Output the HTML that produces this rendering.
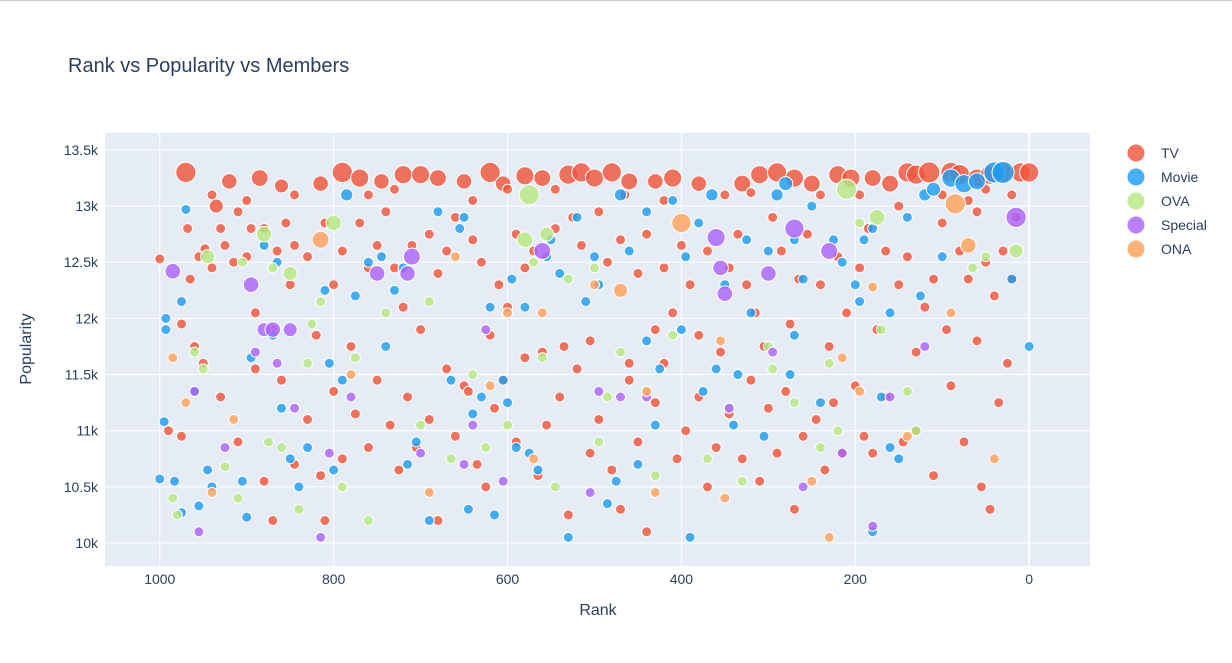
<!DOCTYPE html>
<html><head><meta charset="utf-8"><style>
html,body{margin:0;padding:0;background:#fff;}
body{width:1232px;height:658px;overflow:hidden;font-family:"Liberation Sans",sans-serif;border-top:1px solid #ccc;box-sizing:border-box;}
svg text{font-family:"Liberation Sans",sans-serif;fill:#2a3f5f;}
</style></head><body>
<svg id="chart" width="1232" height="657" xmlns="http://www.w3.org/2000/svg">
<text x="68" y="71" font-size="20">Rank vs Popularity vs Members</text>
<rect x="105" y="132" width="985" height="433" fill="#e5ecf6"/>
<g id="grid"></g><g id="marks"></g><g id="ticks"></g>
<text x="598" y="614" font-size="16" text-anchor="middle">Rank</text>
<text x="0" y="0" font-size="16" text-anchor="middle" transform="translate(31,348) rotate(-90)">Popularity</text>
<g id="legend"></g>
</svg>
<script>
const categories=["TV","Movie","OVA","Special","ONA"];
const colors=["#EF553B","#1F9CF0","#B6E880","#AB63FA","#FFA15A"];
const xTicks=[1000,800,600,400,200,0];
const yTicks=[10000,10500,11000,11500,12000,12500,13000,13500];
const yTickLabels=["10k","10.5k","11k","11.5k","12k","12.5k","13k","13.5k"];
// [rank, popularity(k), members(relative)]
const tvPoints=[[970,13.3,8],[935,13.0,3],[920,13.22,4],[885,13.25,5],[860,13.18,3],[815,13.2,4],[790,13.3,8],[770,13.25,6],[745,13.22,4],[720,13.28,6],[700,13.28,6],[680,13.25,5],[650,13.22,4],[620,13.3,8],[605,13.2,4],[580,13.27,6],[560,13.25,5],[530,13.28,7],[515,13.3,7],[500,13.25,6],[480,13.3,7],[460,13.22,5],[430,13.22,4],[410,13.25,6],[380,13.2,4],[330,13.2,5],[310,13.28,6],[290,13.3,7],[270,13.25,6],[250,13.2,5],[220,13.28,6],[205,13.25,6],[180,13.25,5],[160,13.2,5],[140,13.3,7],[130,13.28,7],[115,13.3,9],[90,13.3,8],[80,13.28,8],[60,13.25,6],[45,13.28,7],[30,13.3,7],[10,13.3,7],[0,13.3,7],
[1000,12.53],[975,11.95],[968,12.8],[965,12.35],[960,11.75],[955,12.55],[948,12.62],[940,12.45],[930,12.8],[925,12.65],[915,12.5],[910,12.95],[900,12.55],[895,12.8],[890,12.05],[880,12.8],[870,11.9],[865,12.6],[855,12.85],[850,12.3],[845,12.65],[830,12.55],[820,11.85],[810,12.85],[800,12.3],[790,12.6],[780,11.75],[770,12.85],[760,12.45],[750,12.65],[740,12.95],[730,12.45],[720,12.1],[710,12.65],[700,11.9],[690,12.75],[680,12.4],[670,12.6],[660,12.9],[650,11.4],[640,12.7],[630,12.5],[620,11.85],[610,12.3],[600,12.1],[590,12.75],[580,12.45],[570,12.6],[560,11.7],[545,12.8],[535,11.75],[525,12.9],[515,12.65],[505,11.8],[495,12.95],[485,12.5],[470,12.7],[460,11.6],[450,12.4],[440,12.75],[430,11.9],[420,12.45],[410,12.05],[400,12.65],[390,12.3],[380,11.85],[370,12.6],[355,11.7],[345,12.45],[335,12.75],[325,12.3],[315,12.05],[305,11.75],[295,12.9],[285,12.6],[275,11.95],[265,12.35],[255,12.75],[240,12.3],[230,11.75],[220,12.55],[210,12.05],[195,12.45],[185,12.8],[175,11.9],[165,12.6],[150,12.3],[140,12.55],[130,11.7],[120,12.1],[110,12.35],[100,12.85],[95,11.9],[80,12.6],[70,12.35],[60,12.95],[50,12.5],[40,12.2],[30,12.6],[20,12.35],[15,12.9],
[940,13.1],[900,13.05],[845,13.1],[760,13.1],[730,13.15],[640,13.05],[600,13.15],[545,13.15],[465,13.1],[420,13.05],[350,13.1],[320,13.12],[240,13.1],[195,13.1],[150,13.0],[100,13.1],[70,13.05],[50,13.15],[20,13.1],[990,11.0],[975,10.95],[950,11.6],[930,11.3],[910,10.9],[890,11.55],[880,10.55],[870,10.2],[860,11.45],[845,10.7],[830,11.1],[815,10.6],[810,10.2],[800,11.35],[790,10.75],[775,11.15],[760,10.85],[750,11.45],[735,11.05],[725,10.65],[715,11.3],[705,10.85],[690,11.1],[680,10.2],[670,11.55],[660,10.95],[645,11.35],[635,10.7],[625,10.5],[615,11.2],[605,11.45],[590,10.9],[580,11.65],[565,10.6],[555,11.05],[540,11.3],[530,10.25],[520,11.55],[505,10.8],[495,11.1],[480,10.65],[470,10.3],[460,11.45],[450,10.9],[440,10.1],[430,11.25],[420,11.6],[405,10.75],[395,11.0],[380,11.3],[370,10.5],[360,10.85],[345,11.15],[330,10.75],[320,11.45],[310,10.55],[300,11.2],[290,10.8],[280,11.35],[270,10.3],[260,10.95],[245,11.1],[235,10.65],[225,11.25],[215,10.8],[200,11.4],[190,10.95],[180,10.8],[165,11.3],[145,10.9],[130,11.0],[110,10.6],[90,11.4],[75,10.9],[55,10.5],[45,10.3],[35,11.25],[60,11.8],[25,11.6]];
const moviePoints=[[1000,10.57],[995,11.08],[993,12.0],[993,11.9],[983,10.55],[975,10.27],[975,12.15],[970,12.97],[960,11.35],[955,10.33],[945,10.65],[940,10.5],[905,10.55],[900,10.23],[895,11.65],[880,12.65],[870,11.85],[865,12.5],[860,11.2],[850,10.75],[840,10.5],[830,10.85],[810,12.25],[805,11.6],[800,10.65],[790,11.45],[785,13.1,2],[775,12.2],[760,12.5],[745,12.55],[740,11.75],[730,12.25],[720,12.45],[715,10.7],[705,10.9],[690,10.2],[680,12.95],[665,11.45],[655,12.8],[650,12.9],[645,10.3],[640,11.15],[630,11.3],[620,12.1],[615,10.25],[605,11.45],[600,11.25],[595,12.35],[580,12.1],[575,10.8],[565,10.65],[555,12.55],[550,12.7],[540,12.4],[530,10.05],[520,12.9],[510,12.15],[500,12.55],[495,12.3],[485,10.35],[475,10.55],[470,13.1,2],[460,12.6],[450,10.7],[440,12.95],[430,11.05],[425,11.55],[410,13.05],[400,11.9],[395,12.55],[390,10.05],[380,12.85],[375,11.35],[365,13.1,2],[360,11.55],[350,12.3],[340,11.05],[335,11.5],[325,12.7],[320,12.05],[305,10.95],[300,12.6],[290,13.1,2],[280,13.2,3],[275,11.5],[270,12.7],[260,12.35],[250,13.0],[240,11.25],[225,12.7],[215,12.5],[200,12.3],[195,12.15],[190,12.7],[180,12.8],[170,11.3],[160,12.05],[150,10.75],[140,12.9],[125,12.2],[120,13.1,2],[110,13.15,3],[100,12.55],[90,13.25,6],[75,13.2,6],[60,13.22,5],[40,13.3,9],[30,13.3,10],[20,12.35],[0,11.75],[180,10.1],[160,10.85],[270,11.85],[440,11.8],[590,10.85]];
const ovaPoints=[[985,10.4],[980,10.25],[960,11.7],[950,11.55],[945,12.55,3],[925,10.68],[910,10.4],[905,12.5],[880,12.75,4],[875,10.9],[860,10.85],[850,12.4,3],[840,10.3],[830,11.6],[825,11.95],[815,12.15],[800,12.85,4],[790,10.5],[775,11.65],[760,10.2],[740,12.05],[700,11.05],[690,12.15],[665,10.75],[640,11.5],[625,10.85],[600,11.05],[580,12.7,4],[575,13.1,8],[570,12.5],[560,11.65],[555,12.75,3],[545,10.5],[530,12.35],[500,12.45],[495,10.9],[485,11.3],[470,11.7],[440,11.35],[430,10.6],[410,11.85],[370,10.75],[345,11.2],[330,10.55],[300,11.75],[295,11.55],[270,11.25],[240,10.85],[230,11.6],[220,11.0],[210,13.15,8],[195,12.85],[175,12.9,4],[170,11.9],[140,11.35],[130,11.0],[65,12.45],[50,12.55],[15,12.6,3],[870,12.45]];
const specialPoints=[[985,12.42,4],[960,11.35],[955,10.1],[925,10.85],[895,12.3,4],[890,11.7],[880,11.9,3],[870,11.9,4],[865,11.6],[850,11.9,3],[845,11.2],[815,10.05],[805,10.8],[780,11.3],[750,12.4,4],[715,12.4,4],[710,12.55,5],[700,10.8],[650,10.7],[640,11.05],[625,11.9],[605,10.55],[560,12.6,5],[505,10.45],[495,11.35],[470,11.3],[440,11.3],[360,12.72,6],[355,12.45,4],[350,12.22,4],[345,11.2],[300,12.4,4],[295,11.7],[270,12.8,7],[260,10.5],[230,12.6,5],[215,10.8],[180,10.15],[160,11.3],[120,11.75],[15,12.9,8]];
const onaPoints=[[985,11.65],[970,11.25],[940,10.45],[915,11.1],[815,12.7,5],[780,11.5],[690,10.45],[660,12.55],[620,11.4],[600,12.05],[570,10.75],[560,12.05],[500,12.3],[470,12.25,3],[440,11.35],[430,10.45],[400,12.85,7],[355,11.8],[350,10.4],[250,10.55],[230,10.05],[215,11.65],[195,11.35],[180,12.28],[140,10.95],[90,12.05],[85,13.02,8],[70,12.65,4],[40,10.75]];
const series=[tvPoints,moviePoints,ovaPoints,specialPoints,onaPoints];

const NS="http://www.w3.org/2000/svg";
const X0=105,X1=1090,Y0=132,Y1=565;
const xMin=1063,xMax=-70,yMin=9795,yMax=13651;
function xs(v){return X0+(v-xMin)/(xMax-xMin)*(X1-X0);}
function ys(v){return Y1-(v-yMin)/(yMax-yMin)*(Y1-Y0);}
function rs(m){return 2.2+2.8*Math.sqrt(m);}
function mk(tag,attrs,parent){const e=document.createElementNS(NS,tag);for(const k in attrs)e.setAttribute(k,attrs[k]);parent.appendChild(e);return e;}
const grid=document.getElementById('grid'),ticks=document.getElementById('ticks'),marks=document.getElementById('marks'),legend=document.getElementById('legend');
xTicks.forEach(t=>{
  const l=mk('line',{x1:xs(t),x2:xs(t),y1:Y0,y2:Y1,stroke:'#fff','stroke-width':t===0?2:1},grid);
  
  
  const tx=mk('text',{x:xs(t),y:583,'font-size':14,'text-anchor':'middle'},ticks);
  tx.textContent=String(t);
  
  
});
yTicks.forEach((t,i)=>{
  const l=mk('line',{x1:X0,x2:X1,y1:ys(t),y2:ys(t),stroke:'#fff','stroke-width':1},grid);
  
  
  const tx=mk('text',{x:98,y:ys(t)+5,'font-size':14,'text-anchor':'end'},ticks);
  tx.textContent=yTickLabels[i];
  
  
});
series.forEach((pts,si)=>{
  pts.forEach(p=>{
    const c=mk('circle',{cx:xs(p[0]),cy:ys(p[1]*1000),r:rs(p[2]||1),fill:colors[si],'fill-opacity':0.82,stroke:'#fff','stroke-width':1},marks);
    
    
  });
});
categories.forEach((cat,i)=>{
  const g=mk('g',{},legend);
  
  
  const y=152+i*24;
  mk('circle',{cx:1136,cy:y,r:9,fill:colors[i],'fill-opacity':0.82,stroke:'#fff','stroke-width':1},g);
  const t=mk('text',{x:1161,y:y+5,'font-size':14},g);
  t.textContent=cat;
});
</script>
</body></html>
